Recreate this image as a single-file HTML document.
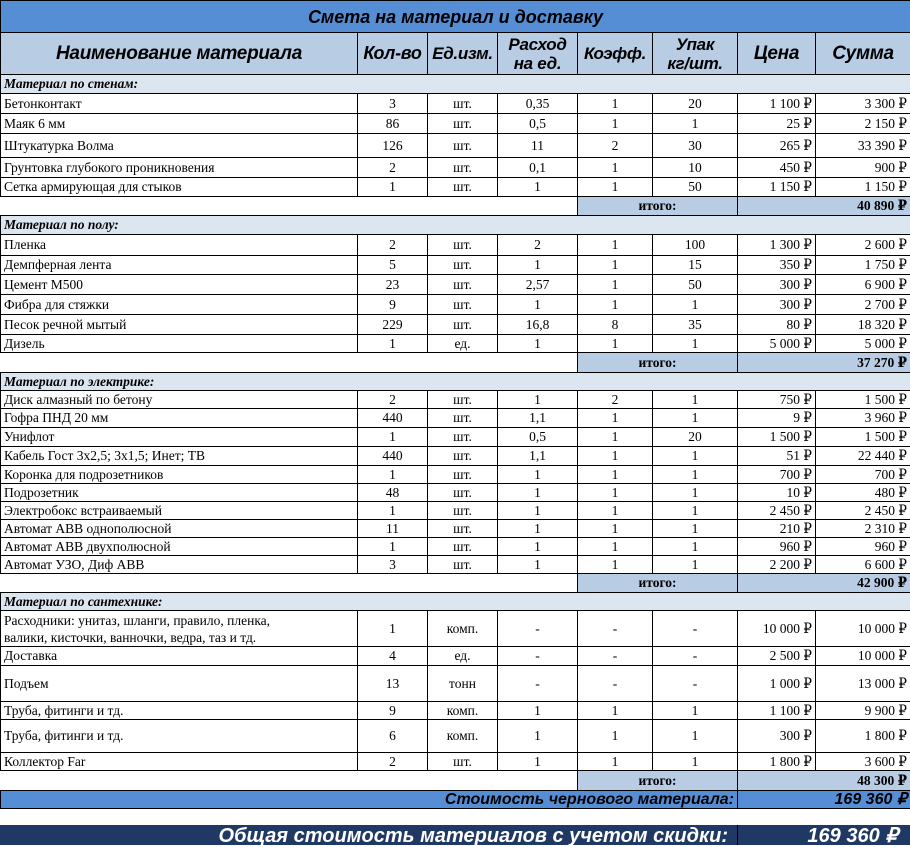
<!DOCTYPE html>
<html><head><meta charset="utf-8"><style>
body{margin:0;width:910px;height:845px;background:#fff;overflow:hidden;font-family:"Liberation Serif","DejaVu Serif",serif;}
table{border-collapse:collapse;table-layout:fixed;position:absolute;left:0;top:0;width:910px;}
td{border:1px solid #000;padding:0 3px;font-size:13.5px;line-height:14px;overflow:hidden;white-space:nowrap;color:#000;}
.c{text-align:center}.r{text-align:right}
.title{background:#558ed5;text-align:center;font-style:italic;font-weight:bold;font-size:18px;font-family:"Liberation Sans",sans-serif;}
.hd td{background:#b8cce4;text-align:center;font-style:italic;font-weight:bold;font-size:17px;line-height:19px;font-family:"Liberation Sans",sans-serif;letter-spacing:-0.3px;}
.sec td{background:#dce6f1;font-style:italic;font-weight:bold;font-size:13.5px;}
.it td.e{border:none;border-right:1px solid #000;}
.it td.b{background:#b8cce4;font-weight:bold;}
.st td{background:#558ed5;font-style:italic;font-weight:bold;font-size:16px;font-family:"Liberation Sans",sans-serif;}
.fin{position:absolute;left:0;top:825px;width:910px;height:20px;background:#1f3864;color:#fff;font-style:italic;font-weight:bold;font-family:"Liberation Sans",sans-serif;font-size:20px;line-height:22px;}
</style></head><body>
<table>
<colgroup><col style="width:357px"><col style="width:70px"><col style="width:70px"><col style="width:80px"><col style="width:75px"><col style="width:85px"><col style="width:78px"><col style="width:95px"></colgroup>
<tr><td colspan="8" class="title" style="height:31px">Смета на материал и доставку</td></tr>
<tr class="hd"><td style="height:41px;font-size:19px">Наименование материала</td><td style="font-size:18px">Кол-во</td><td>Ед.изм.</td><td>Расход<br>на ед.</td><td>Коэфф.</td><td>Упак<br>кг/шт.</td><td style="font-size:19px">Цена</td><td style="font-size:19px">Сумма</td></tr>
<tr class="sec"><td colspan="8" style="height:18px">Материал по стенам:</td></tr>
<tr><td style="height:19px">Бетонконтакт</td><td class="c">3</td><td class="c">шт.</td><td class="c">0,35</td><td class="c">1</td><td class="c">20</td><td class="r">1 100 ₽</td><td class="r">3 300 ₽</td></tr>
<tr><td style="height:19px">Маяк 6 мм</td><td class="c">86</td><td class="c">шт.</td><td class="c">0,5</td><td class="c">1</td><td class="c">1</td><td class="r">25 ₽</td><td class="r">2 150 ₽</td></tr>
<tr><td style="height:23px">Штукатурка Волма</td><td class="c">126</td><td class="c">шт.</td><td class="c">11</td><td class="c">2</td><td class="c">30</td><td class="r">265 ₽</td><td class="r">33 390 ₽</td></tr>
<tr><td style="height:19px">Грунтовка глубокого проникновения</td><td class="c">2</td><td class="c">шт.</td><td class="c">0,1</td><td class="c">1</td><td class="c">10</td><td class="r">450 ₽</td><td class="r">900 ₽</td></tr>
<tr><td style="height:18px">Сетка армирующая для стыков</td><td class="c">1</td><td class="c">шт.</td><td class="c">1</td><td class="c">1</td><td class="c">50</td><td class="r">1 150 ₽</td><td class="r">1 150 ₽</td></tr>
<tr class="it"><td colspan="4" class="e" style="height:18px"></td><td colspan="2" class="b c">итого:</td><td colspan="2" class="b r">40 890 ₽</td></tr>
<tr class="sec"><td colspan="8" style="height:18px">Материал по полу:</td></tr>
<tr><td style="height:20px">Пленка</td><td class="c">2</td><td class="c">шт.</td><td class="c">2</td><td class="c">1</td><td class="c">100</td><td class="r">1 300 ₽</td><td class="r">2 600 ₽</td></tr>
<tr><td style="height:18px">Демпферная лента</td><td class="c">5</td><td class="c">шт.</td><td class="c">1</td><td class="c">1</td><td class="c">15</td><td class="r">350 ₽</td><td class="r">1 750 ₽</td></tr>
<tr><td style="height:19px">Цемент М500</td><td class="c">23</td><td class="c">шт.</td><td class="c">2,57</td><td class="c">1</td><td class="c">50</td><td class="r">300 ₽</td><td class="r">6 900 ₽</td></tr>
<tr><td style="height:19px">Фибра для стяжки</td><td class="c">9</td><td class="c">шт.</td><td class="c">1</td><td class="c">1</td><td class="c">1</td><td class="r">300 ₽</td><td class="r">2 700 ₽</td></tr>
<tr><td style="height:19px">Песок речной мытый</td><td class="c">229</td><td class="c">шт.</td><td class="c">16,8</td><td class="c">8</td><td class="c">35</td><td class="r">80 ₽</td><td class="r">18 320 ₽</td></tr>
<tr><td style="height:17px">Дизель</td><td class="c">1</td><td class="c">ед.</td><td class="c">1</td><td class="c">1</td><td class="c">1</td><td class="r">5 000 ₽</td><td class="r">5 000 ₽</td></tr>
<tr class="it"><td colspan="4" class="e" style="height:19px"></td><td colspan="2" class="b c">итого:</td><td colspan="2" class="b r">37 270 ₽</td></tr>
<tr class="sec"><td colspan="8" style="height:17px">Материал по электрике:</td></tr>
<tr><td style="height:17px">Диск алмазный по бетону</td><td class="c">2</td><td class="c">шт.</td><td class="c">1</td><td class="c">2</td><td class="c">1</td><td class="r">750 ₽</td><td class="r">1 500 ₽</td></tr>
<tr><td style="height:18px">Гофра ПНД 20 мм</td><td class="c">440</td><td class="c">шт.</td><td class="c">1,1</td><td class="c">1</td><td class="c">1</td><td class="r">9 ₽</td><td class="r">3 960 ₽</td></tr>
<tr><td style="height:18px">Унифлот</td><td class="c">1</td><td class="c">шт.</td><td class="c">0,5</td><td class="c">1</td><td class="c">20</td><td class="r">1 500 ₽</td><td class="r">1 500 ₽</td></tr>
<tr><td style="height:18px">Кабель Гост 3х2,5; 3х1,5; Инет; ТВ</td><td class="c">440</td><td class="c">шт.</td><td class="c">1,1</td><td class="c">1</td><td class="c">1</td><td class="r">51 ₽</td><td class="r">22 440 ₽</td></tr>
<tr><td style="height:17px">Коронка для подрозетников</td><td class="c">1</td><td class="c">шт.</td><td class="c">1</td><td class="c">1</td><td class="c">1</td><td class="r">700 ₽</td><td class="r">700 ₽</td></tr>
<tr><td style="height:17px">Подрозетник</td><td class="c">48</td><td class="c">шт.</td><td class="c">1</td><td class="c">1</td><td class="c">1</td><td class="r">10 ₽</td><td class="r">480 ₽</td></tr>
<tr><td style="height:17px">Электробокс встраиваемый</td><td class="c">1</td><td class="c">шт.</td><td class="c">1</td><td class="c">1</td><td class="c">1</td><td class="r">2 450 ₽</td><td class="r">2 450 ₽</td></tr>
<tr><td style="height:17px">Автомат АВВ однополюсной</td><td class="c">11</td><td class="c">шт.</td><td class="c">1</td><td class="c">1</td><td class="c">1</td><td class="r">210 ₽</td><td class="r">2 310 ₽</td></tr>
<tr><td style="height:17px">Автомат АВВ двухполюсной</td><td class="c">1</td><td class="c">шт.</td><td class="c">1</td><td class="c">1</td><td class="c">1</td><td class="r">960 ₽</td><td class="r">960 ₽</td></tr>
<tr><td style="height:17px">Автомат УЗО, Диф АВВ</td><td class="c">3</td><td class="c">шт.</td><td class="c">1</td><td class="c">1</td><td class="c">1</td><td class="r">2 200 ₽</td><td class="r">6 600 ₽</td></tr>
<tr class="it"><td colspan="4" class="e" style="height:18px"></td><td colspan="2" class="b c">итого:</td><td colspan="2" class="b r">42 900 ₽</td></tr>
<tr class="sec"><td colspan="8" style="height:17px">Материал по сантехнике:</td></tr>
<tr><td style="height:35px;line-height:17px">Расходники: унитаз, шланги, правило, пленка,<br>валики, кисточки, ванночки, ведра, таз и тд.</td><td class="c">1</td><td class="c">комп.</td><td class="c">-</td><td class="c">-</td><td class="c">-</td><td class="r">10 000 ₽</td><td class="r">10 000 ₽</td></tr>
<tr><td style="height:18px">Доставка</td><td class="c">4</td><td class="c">ед.</td><td class="c">-</td><td class="c">-</td><td class="c">-</td><td class="r">2 500 ₽</td><td class="r">10 000 ₽</td></tr>
<tr><td style="height:35px">Подъем</td><td class="c">13</td><td class="c">тонн</td><td class="c">-</td><td class="c">-</td><td class="c">-</td><td class="r">1 000 ₽</td><td class="r">13 000 ₽</td></tr>
<tr><td style="height:17px">Труба, фитинги и тд.</td><td class="c">9</td><td class="c">комп.</td><td class="c">1</td><td class="c">1</td><td class="c">1</td><td class="r">1 100 ₽</td><td class="r">9 900 ₽</td></tr>
<tr><td style="height:32px">Труба, фитинги и тд.</td><td class="c">6</td><td class="c">комп.</td><td class="c">1</td><td class="c">1</td><td class="c">1</td><td class="r">300 ₽</td><td class="r">1 800 ₽</td></tr>
<tr><td style="height:17px">Коллектор Far</td><td class="c">2</td><td class="c">шт.</td><td class="c">1</td><td class="c">1</td><td class="c">1</td><td class="r">1 800 ₽</td><td class="r">3 600 ₽</td></tr>
<tr class="it"><td colspan="4" class="e" style="height:19px"></td><td colspan="2" class="b c">итого:</td><td colspan="2" class="b r">48 300 ₽</td></tr>
<tr class="st"><td colspan="6" class="r" style="height:17px">Стоимость чернового материала:</td><td colspan="2" class="r">169 360 ₽</td></tr>
</table>
<div class="fin"><span style="position:absolute;right:182px;top:0">Общая стоимость материалов с учетом скидки:</span><span style="position:absolute;left:737px;top:0;width:1px;height:20px;background:#000"></span><span style="position:absolute;right:12px;top:0">169 360 ₽</span></div>
</body></html>
